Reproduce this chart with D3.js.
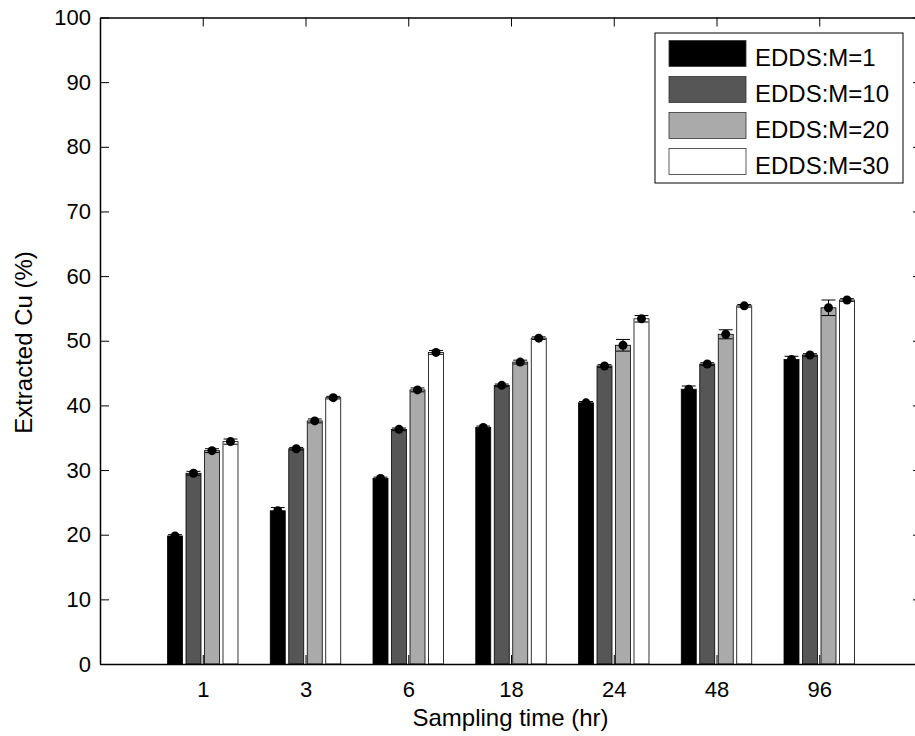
<!DOCTYPE html>
<html>
<head>
<meta charset="utf-8">
<script src="https://cdn.jsdelivr.net/npm/d3@7"></script>
<style>
  html, body { margin: 0; padding: 0; background: #fff; }
  svg { display: block; }
  text { font-family: "Liberation Sans", Arial, Helvetica, sans-serif; fill: #000; }
</style>
</head>
<body>
<svg id="chart" width="915" height="736"></svg>
<script>
// ---- data ----
const categories = ["1", "3", "6", "18", "24", "48", "96"];
const seriesNames = ["EDDS:M=1", "EDDS:M=10", "EDDS:M=20", "EDDS:M=30"];
const m1  = [19.8, 23.7, 28.7, 36.6, 40.4, 42.5, 47.1];
const m10 = [29.5, 33.3, 36.3, 43.1, 46.1, 46.4, 47.8];
const m20 = [33.0, 37.6, 42.4, 46.7, 49.3, 51.0, 55.1];
const m30 = [34.4, 41.2, 48.2, 50.4, 53.4, 55.4, 56.3];
const err1  = [0.2, 0.5, 0.2, 0.2, 0.2, 0.5, 0.5];
const err10 = [0.3, 0.2, 0.2, 0.2, 0.2, 0.2, 0.2];
const err20 = [0.3, 0.3, 0.3, 0.3, 0.9, 0.7, 1.2];
const err30 = [0.4, 0.2, 0.3, 0.2, 0.5, 0.2, 0.2];
const yTicks = [0, 10, 20, 30, 40, 50, 60, 70, 80, 90, 100];
const colors = ["#000000", "#565656", "#aaaaaa", "#ffffff"];

const values = [m1, m10, m20, m30];
const errors = [err1, err10, err20, err30];

// ---- layout ----
const svg = d3.select("#chart");
const x = d3.scaleLinear().domain([0, 8]).range([100, 922]);
const y = d3.scaleLinear().domain([0, 100]).range([664, 17.5]);
const offsets = [-0.27, -0.09, 0.09, 0.27];
const barW = 0.146;
const capW = 0.135;

const rows = [];
values.forEach((arr, s) => arr.forEach((v, i) => rows.push({ s, i, v, e: errors[s][i] })));

// bars
svg.append("g").selectAll("rect").data(rows).join("rect")
  .attr("x", d => x(i1(d) + offsets[d.s] - barW / 2))
  .attr("width", x(barW) - x(0))
  .attr("y", d => y(d.v))
  .attr("height", d => y(0) - y(d.v))
  .attr("fill", d => colors[d.s])
  .attr("stroke", "#000")
  .attr("stroke-width", 0.8);

function i1(d) { return d.i + 1; }

// error bars
const eg = svg.append("g").attr("stroke", "#000").attr("stroke-width", 1).attr("fill", "none");
rows.forEach(d => {
  const cx = x(i1(d) + offsets[d.s]);
  const hw = (x(capW) - x(0)) / 2;
  eg.append("line").attr("x1", cx).attr("x2", cx).attr("y1", y(d.v - d.e)).attr("y2", y(d.v + d.e));
  eg.append("line").attr("x1", cx - hw).attr("x2", cx + hw).attr("y1", y(d.v - d.e)).attr("y2", y(d.v - d.e));
  eg.append("line").attr("x1", cx - hw).attr("x2", cx + hw).attr("y1", y(d.v + d.e)).attr("y2", y(d.v + d.e));
});

// dots
svg.append("g").selectAll("circle").data(rows).join("circle")
  .attr("cx", d => x(i1(d) + offsets[d.s]))
  .attr("cy", d => y(d.v))
  .attr("r", 4.5)
  .attr("fill", "#000");

// axes
const tickVals = categories.map((c, i) => i + 1);
const fontTick = 22;

const ax = svg.append("g").attr("transform", `translate(0,${y(0)})`)
  .call(d3.axisBottom(x).tickValues(tickVals).tickFormat((d, i) => categories[i])
    .tickSizeInner(-9).tickSizeOuter(0).tickPadding(17.4));
const ay = svg.append("g").attr("transform", `translate(${x(0)},0)`)
  .call(d3.axisLeft(y).tickValues(yTicks).tickFormat(d3.format("d"))
    .tickSizeInner(-9).tickSizeOuter(0).tickPadding(9));
const at = svg.append("g").attr("transform", `translate(0,${y(100)})`)
  .call(d3.axisTop(x).tickValues(tickVals).tickFormat("")
    .tickSizeInner(-9).tickSizeOuter(0));
const ar = svg.append("g").attr("transform", `translate(${x(8)},0)`)
  .call(d3.axisRight(y).tickValues(yTicks).tickFormat("")
    .tickSizeInner(-9).tickSizeOuter(0));

[ax, ay, at, ar].forEach(g => {
  g.select(".domain").attr("stroke", "#000").attr("stroke-width", 1.5);
  g.selectAll(".tick line").attr("stroke", "#000").attr("stroke-width", 1);
  g.selectAll("text").attr("font-size", fontTick)
    .attr("font-family", '"Liberation Sans", Arial, sans-serif').attr("fill", "#000");
});

// axis titles
svg.append("text")
  .attr("x", 510.5).attr("y", 726)
  .attr("text-anchor", "middle").attr("font-size", 24)
  .text("Sampling time (hr)");
svg.append("text")
  .attr("transform", "translate(32,342.5) rotate(-90)")
  .attr("text-anchor", "middle").attr("font-size", 24)
  .text("Extracted Cu (%)");

// legend
const lg = svg.append("g");
lg.append("rect").attr("x", 655).attr("y", 33).attr("width", 248).attr("height", 150)
  .attr("fill", "#fff").attr("stroke", "#000").attr("stroke-width", 1);
seriesNames.forEach((name, s) => {
  lg.append("rect").attr("x", 669).attr("y", 40.5 + s * 36).attr("width", 77).attr("height", 26)
    .attr("fill", colors[s]).attr("stroke", "#333").attr("stroke-width", 0.8);
  lg.append("text").attr("x", 755).attr("y", 66 + s * 36).attr("font-size", 24).text(name);
});
</script>
</body>
</html>
